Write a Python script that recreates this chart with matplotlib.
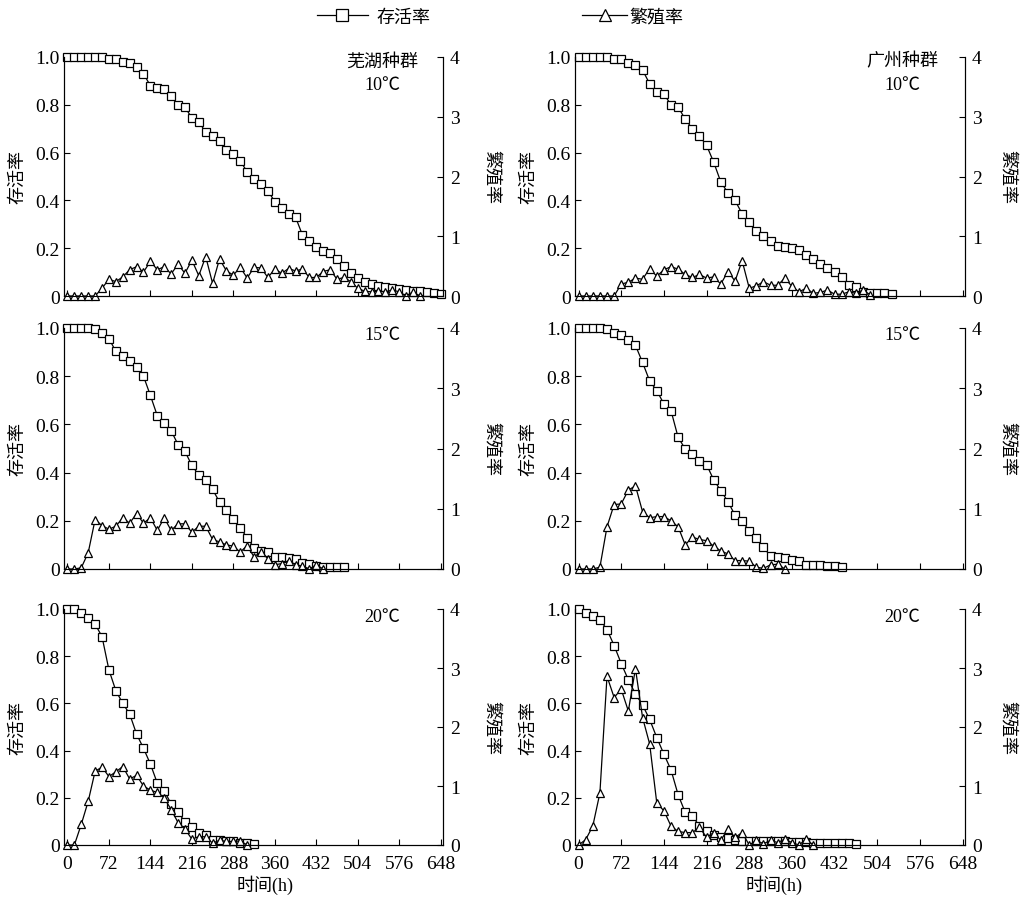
import numpy as np
import matplotlib
matplotlib.use("Agg")
import matplotlib.pyplot as plt
from matplotlib.lines import Line2D

plt.rcParams['font.family'] = ['Liberation Serif', 'Noto Sans CJK SC']
plt.rcParams['font.size'] = 13

# sampling interval (h) and x ticks
STEP_H = 12
X_TICKS = [0, 72, 144, 216, 288, 360, 432, 504, 576, 648]

# survival rate (left axis) and fecundity (right axis), one value every 12 h
wuhu_10_surv = [1.0, 1.0, 1.0, 1.0, 1.0, 1.0, 0.99, 0.99, 0.98, 0.975, 0.96,
                0.93, 0.88, 0.87, 0.865, 0.835, 0.80, 0.79, 0.745, 0.73, 0.685,
                0.67, 0.65, 0.61, 0.595, 0.565, 0.52, 0.49, 0.47, 0.44, 0.395,
                0.37, 0.345, 0.33, 0.255, 0.23, 0.205, 0.19, 0.18, 0.155, 0.125,
                0.095, 0.075, 0.058, 0.05, 0.043, 0.037, 0.032, 0.028, 0.025,
                0.022, 0.02, 0.015, 0.012, 0.008]
wuhu_10_fec = [0, 0, 0, 0, 0, 0.13, 0.28, 0.24, 0.32, 0.44,
               0.49, 0.40, 0.58, 0.44, 0.49, 0.37, 0.53, 0.38, 0.60, 0.34,
               0.66, 0.21, 0.62, 0.42, 0.35, 0.48, 0.30, 0.48, 0.47, 0.31,
               0.45, 0.38, 0.46, 0.42, 0.45, 0.31, 0.31, 0.41, 0.44, 0.28,
               0.31, 0.24, 0.13, 0.08, 0.07, 0.08, 0.07, 0.10, 0.07, 0,
               0.07, 0]

gz_10_surv = [1.0, 1.0, 1.0, 1.0, 1.0, 0.99, 0.99, 0.975, 0.965, 0.945,
              0.888, 0.855, 0.845, 0.80, 0.79, 0.74, 0.70, 0.67, 0.63, 0.56,
              0.477, 0.432, 0.40, 0.344, 0.311, 0.27, 0.252, 0.231, 0.21, 0.203,
              0.199, 0.194, 0.172, 0.154, 0.133, 0.119, 0.102, 0.081, 0.046, 0.039,
              0.018, 0.011, 0.011, 0.011, 0.007]
gz_10_fec = [0, 0, 0, 0, 0, 0, 0.2, 0.23, 0.3, 0.28, 0.46,
             0.33, 0.44, 0.49, 0.45, 0.36, 0.31, 0.36, 0.30, 0.32, 0.2,
             0.41, 0.25, 0.59, 0.13, 0.17, 0.24, 0.18, 0.18, 0.30, 0.16,
             0.07, 0.13, 0.045, 0.06, 0.10, 0.03, 0.03, 0.07, 0.045, 0.10,
             0.02]

wuhu_15_surv = [1.0, 1.0, 1.0, 1.0, 0.997, 0.98, 0.956, 0.903, 0.882,
                0.864, 0.84, 0.80, 0.72, 0.636, 0.606, 0.574, 0.516, 0.488, 0.43,
                0.39, 0.37, 0.33, 0.278, 0.246, 0.208, 0.17, 0.13, 0.088, 0.076,
                0.072, 0.05, 0.05, 0.045, 0.043, 0.023, 0.021, 0.014, 0.01, 0.01,
                0.01, 0.007]
wuhu_15_fec = [0, 0, 0.02, 0.27, 0.82, 0.72, 0.66, 0.71, 0.85, 0.76,
               0.92, 0.76, 0.85, 0.64, 0.85, 0.64, 0.75, 0.75, 0.61, 0.71,
               0.71, 0.49, 0.45, 0.40, 0.38, 0.28, 0.39, 0.20, 0.29, 0.17,
               0.07, 0.09, 0.14, 0.07, 0.05, 0, 0.07, 0]

gz_15_surv = [1.0, 1.0, 1.0, 1.0, 0.997, 0.98, 0.972, 0.95, 0.928, 0.857,
              0.78, 0.74, 0.685, 0.657, 0.546, 0.498, 0.477, 0.45, 0.433, 0.37,
              0.325, 0.28, 0.223, 0.198, 0.159, 0.129, 0.09, 0.053, 0.048, 0.046,
              0.039, 0.032, 0.018, 0.018, 0.018, 0.011, 0.011, 0.007]
gz_15_fec = [0, 0, 0, 0.03, 0.70, 1.07, 1.08, 1.31, 1.38, 0.95,
             0.85, 0.87, 0.87, 0.80, 0.70, 0.40, 0.53, 0.49, 0.47, 0.38,
             0.30, 0.25, 0.14, 0.14, 0.13, 0.03, 0.01, 0.07, 0.08, 0]

wuhu_20_surv = [1.0, 1.0, 0.983, 0.962, 0.936, 0.883, 0.742, 0.654, 0.60, 0.555,
                0.47, 0.41, 0.343, 0.262, 0.23, 0.174, 0.138, 0.099, 0.078, 0.05,
                0.042, 0.022, 0.02, 0.017, 0.015, 0.01, 0.008, 0.003]
wuhu_20_fec = [0, 0, 0.35, 0.74, 1.25, 1.32, 1.16, 1.24, 1.33, 1.12,
               1.18, 1.0, 0.93, 0.89, 0.80, 0.60, 0.38, 0.27, 0.10, 0.14,
               0.14, 0.03, 0.08, 0.06, 0.06, 0.07, 0]

gz_20_surv = [1.0, 0.983, 0.972, 0.955, 0.913, 0.845, 0.769, 0.70, 0.64, 0.593,
              0.532, 0.455, 0.385, 0.318, 0.213, 0.138, 0.121, 0.082, 0.061, 0.044,
              0.032, 0.03, 0.021, 0.018, 0.018, 0.018, 0.015, 0.015, 0.015, 0.015,
              0.014, 0.014, 0.011, 0.008, 0.008, 0.008, 0.008, 0.008, 0.008, 0.004]
gz_20_fec = [0, 0.09, 0.32, 0.88, 2.86, 2.50, 2.64, 2.27, 2.99, 2.16,
             1.71, 0.71, 0.58, 0.32, 0.23, 0.21, 0.21, 0.30, 0.13, 0.21,
             0.08, 0.27, 0.13, 0.21, 0, 0.08, 0.02, 0.08, 0.04, 0.10,
             0.04, 0, 0.10, 0]

# figure layout (pixels of a 1025x903 canvas)
FIG_W, FIG_H = 1025, 903
COL_X = [(64, 379), (575, 390)]              # left, width
ROW_Y = [(58, 297), (329, 570), (610, 846)]   # top, bottom
TICK_SIZE = 14


def style_line(marker, ms=5):
    return dict(color='black', lw=0.9, marker=marker, ms=ms, mfc='white',
                mec='black', mew=0.9, clip_on=False)


def draw_panel(fig, row, col, surv, fec, notes, show_x):
    left, width = COL_X[col]
    top, bottom = ROW_Y[row]
    ax = fig.add_axes([left / FIG_W, 1 - bottom / FIG_H,
                       width / FIG_W, (bottom - top) / FIG_H])
    t_s = np.arange(len(surv)) * STEP_H
    t_f = np.arange(len(fec)) * STEP_H
    ax.plot(t_s, surv, **style_line('s', 5.3))
    ax.set_xlim(-6, 652)
    ax.set_ylim(0, 1.0)
    ax.set_xticks(X_TICKS)
    ax.set_yticks([0, 0.2, 0.4, 0.6, 0.8, 1.0])
    ax.set_yticklabels(['0', '0.2', '0.4', '0.6', '0.8', '1.0'])
    ax.tick_params(direction='in', length=4, width=0.8, pad=3,
                   labelsize=TICK_SIZE)
    ax.tick_params(axis='x', pad=7, labelbottom=show_x)
    ax.spines['top'].set_visible(False)

    ax2 = ax.twinx()
    ax2.plot(t_f, fec, **style_line('^', 5.8))
    ax2.set_ylim(0, 4)
    ax2.set_yticks([0, 1, 2, 3, 4])
    ax2.tick_params(direction='in', length=4, width=0.8, pad=5,
                    labelsize=TICK_SIZE)
    ax2.spines['top'].set_visible(False)

    ax.text(-46 / width, 0.5, '存活率', transform=ax.transAxes,
            rotation=90, ha='center', va='center')
    rx = 1.129 if col == 0 else 1.108
    ax.text(rx, 0.5, '繁殖率', transform=ax.transAxes,
            rotation=270, ha='center', va='center')

    # population / temperature notes in the upper right corner
    for text, y in notes:
        ax.text(0.84, y, text, transform=ax.transAxes, ha='center', va='center')

    if show_x:
        ax.text(0.53 if col == 0 else 0.51, -0.165, '时间(h)',
                transform=ax.transAxes, ha='center', va='center')
    return ax


def main():
    fig = plt.figure(figsize=(FIG_W / 100, FIG_H / 100), dpi=100)

    draw_panel(fig, 0, 0, wuhu_10_surv, wuhu_10_fec,
               [('芜湖种群', 0.983), ('10℃', 0.883)], False)
    draw_panel(fig, 0, 1, gz_10_surv, gz_10_fec,
               [('广州种群', 0.983), ('10℃', 0.883)], False)
    draw_panel(fig, 1, 0, wuhu_15_surv, wuhu_15_fec, [('15℃', 0.975)], False)
    draw_panel(fig, 1, 1, gz_15_surv, gz_15_fec, [('15℃', 0.975)], False)
    draw_panel(fig, 2, 0, wuhu_20_surv, wuhu_20_fec, [('20℃', 0.97)], True)
    draw_panel(fig, 2, 1, gz_20_surv, gz_20_fec, [('20℃', 0.97)], True)

    # top legend, two separate entries
    h_surv = Line2D([], [], **style_line('s', 8))
    h_fec = Line2D([], [], **style_line('^', 8))
    fig.legend([h_surv], ['存活率'], loc='center left', frameon=False,
               bbox_to_anchor=(317 / FIG_W, 1 - 18 / FIG_H), borderpad=0,
               borderaxespad=0, handlelength=2.8, handletextpad=0.5)
    fig.legend([h_fec], ['繁殖率'], loc='center left', frameon=False,
               bbox_to_anchor=(582 / FIG_W, 1 - 18 / FIG_H), borderpad=0,
               borderaxespad=0, handlelength=2.5, handletextpad=0.1)

    fig.savefig('out.png', dpi=100)


if __name__ == "__main__":
    main()
